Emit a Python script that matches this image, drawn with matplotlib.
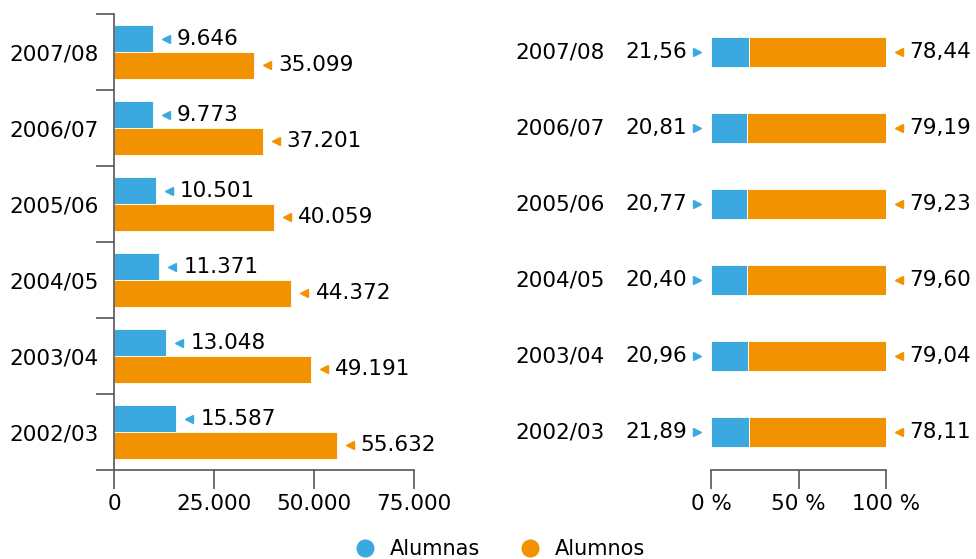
import numpy as np
import matplotlib.pyplot as plt
import matplotlib.transforms as mtransforms

# data, bottom to top
cursos = ['2002/03', '2003/04', '2004/05', '2005/06', '2006/07', '2007/08']
alumnas = [15587, 13048, 11371, 10501, 9773, 9646]
alumnos = [55632, 49191, 44372, 40059, 37201, 35099]
pct_alumnas = [21.89, 20.96, 20.40, 20.77, 20.81, 21.56]
pct_alumnos = [78.11, 79.04, 79.60, 79.23, 79.19, 78.44]
ticks_abs = [0, 25000, 50000, 75000]
ticks_abs_lbl = ['0', '25.000', '50.000', '75.000']
ticks_pct = [0, 50, 100]
ticks_pct_lbl = ['0 %', '50 %', '100 %']

blue = '#3BA9E0'
orange = '#F39200'
fs = 15.5

def miles(v):
    return '{:,}'.format(v).replace(',', '.')

def coma(v):
    return '{:.2f}'.format(v).replace('.', ',')

fig = plt.figure(figsize=(9.76, 5.59), dpi=100)
y = np.arange(len(cursos))

# left chart: absolute values
ax1 = fig.add_axes([114/976, 1-470/559, (414-114)/976, 456/559])
h = 0.355
ax1.barh(y + h/2, alumnas, height=h, color=blue, edgecolor='white', linewidth=0.6)
ax1.barh(y - h/2, alumnos, height=h, color=orange, edgecolor='white', linewidth=0.6)
ax1.set_xlim(0, 75000)
ax1.set_ylim(-0.5, len(cursos) - 0.5)
ax1.set_xticks(ticks_abs)
ax1.set_xticklabels(ticks_abs_lbl, fontsize=fs)
ax1.set_yticks(np.arange(len(cursos) + 1) - 0.5)
ax1.set_yticklabels([])
ax1.set_yticks(y, minor=True)
ax1.set_yticklabels(cursos, minor=True, fontsize=fs)
ax1.tick_params(axis='y', which='major', length=13, color='#555555', width=1.2)
ax1.tick_params(axis='y', which='minor', length=0, pad=11)
ax1.tick_params(axis='x', length=14, color='#555555', width=1.2, pad=3)
for s in ['top', 'right']:
    ax1.spines[s].set_visible(False)
for s in ['left', 'bottom']:
    ax1.spines[s].set_color('#555555')
    ax1.spines[s].set_linewidth(1.2)

for vals, off, col in [(alumnas, h/2, blue), (alumnos, -h/2, orange)]:
    for yi, v in zip(y, vals):
        tr = mtransforms.offset_copy(ax1.transData, fig=fig, x=13, y=0, units='dots')
        ax1.plot(v, yi + off, marker='<', color=col, markersize=6, transform=tr, clip_on=False)
        ax1.annotate(miles(v), (v, yi + off), xytext=(24, 0), textcoords='offset pixels',
                     ha='left', va='center', fontsize=fs)

# right chart: percentages
ax2 = fig.add_axes([711/976, 1-470/559, (886-711)/976, 456/559])
h2 = 0.40
ax2.barh(y, pct_alumnas, height=h2, color=blue, edgecolor='white', linewidth=0.6)
ax2.barh(y, pct_alumnos, left=pct_alumnas, height=h2, color=orange, edgecolor='white', linewidth=0.6)
ax2.set_xlim(0, 100)
ax2.set_ylim(-0.5, len(cursos) - 0.5)
ax2.set_xticks(ticks_pct)
ax2.set_xticklabels(ticks_pct_lbl, fontsize=fs)
ax2.set_yticks([])
ax2.tick_params(axis='x', length=14, color='#555555', width=1.2, pad=3)
for s in ['top', 'right', 'left']:
    ax2.spines[s].set_visible(False)
ax2.spines['bottom'].set_color('#555555')
ax2.spines['bottom'].set_linewidth(1.2)

for yi, c, pa, po in zip(y, cursos, pct_alumnas, pct_alumnos):
    ax2.annotate(c, (0, yi), xytext=(-106, 0), textcoords='offset pixels',
                 ha='right', va='center', fontsize=fs)
    ax2.annotate(coma(pa), (0, yi), xytext=(-24, 0), textcoords='offset pixels',
                 ha='right', va='center', fontsize=fs)
    tr = mtransforms.offset_copy(ax2.transData, fig=fig, x=-14, y=0, units='dots')
    ax2.plot(0, yi, marker='>', color=blue, markersize=6, transform=tr, clip_on=False)
    tr = mtransforms.offset_copy(ax2.transData, fig=fig, x=13, y=0, units='dots')
    ax2.plot(100, yi, marker='<', color=orange, markersize=6, transform=tr, clip_on=False)
    ax2.annotate(coma(po), (100, yi), xytext=(23, 0), textcoords='offset pixels',
                 ha='left', va='center', fontsize=fs)

# legend
hl = [plt.Line2D([], [], marker='o', ls='', color=blue, markersize=12),
      plt.Line2D([], [], marker='o', ls='', color=orange, markersize=12)]
fig.legend(hl, ['Alumnas', 'Alumnos'], loc='center', bbox_to_anchor=(0.512, 0.018),
           ncol=2, frameon=False, fontsize=15, handlelength=1.0, handletextpad=0.7,
           columnspacing=1.9, borderpad=0)

fig.savefig('out.png', dpi=100)
